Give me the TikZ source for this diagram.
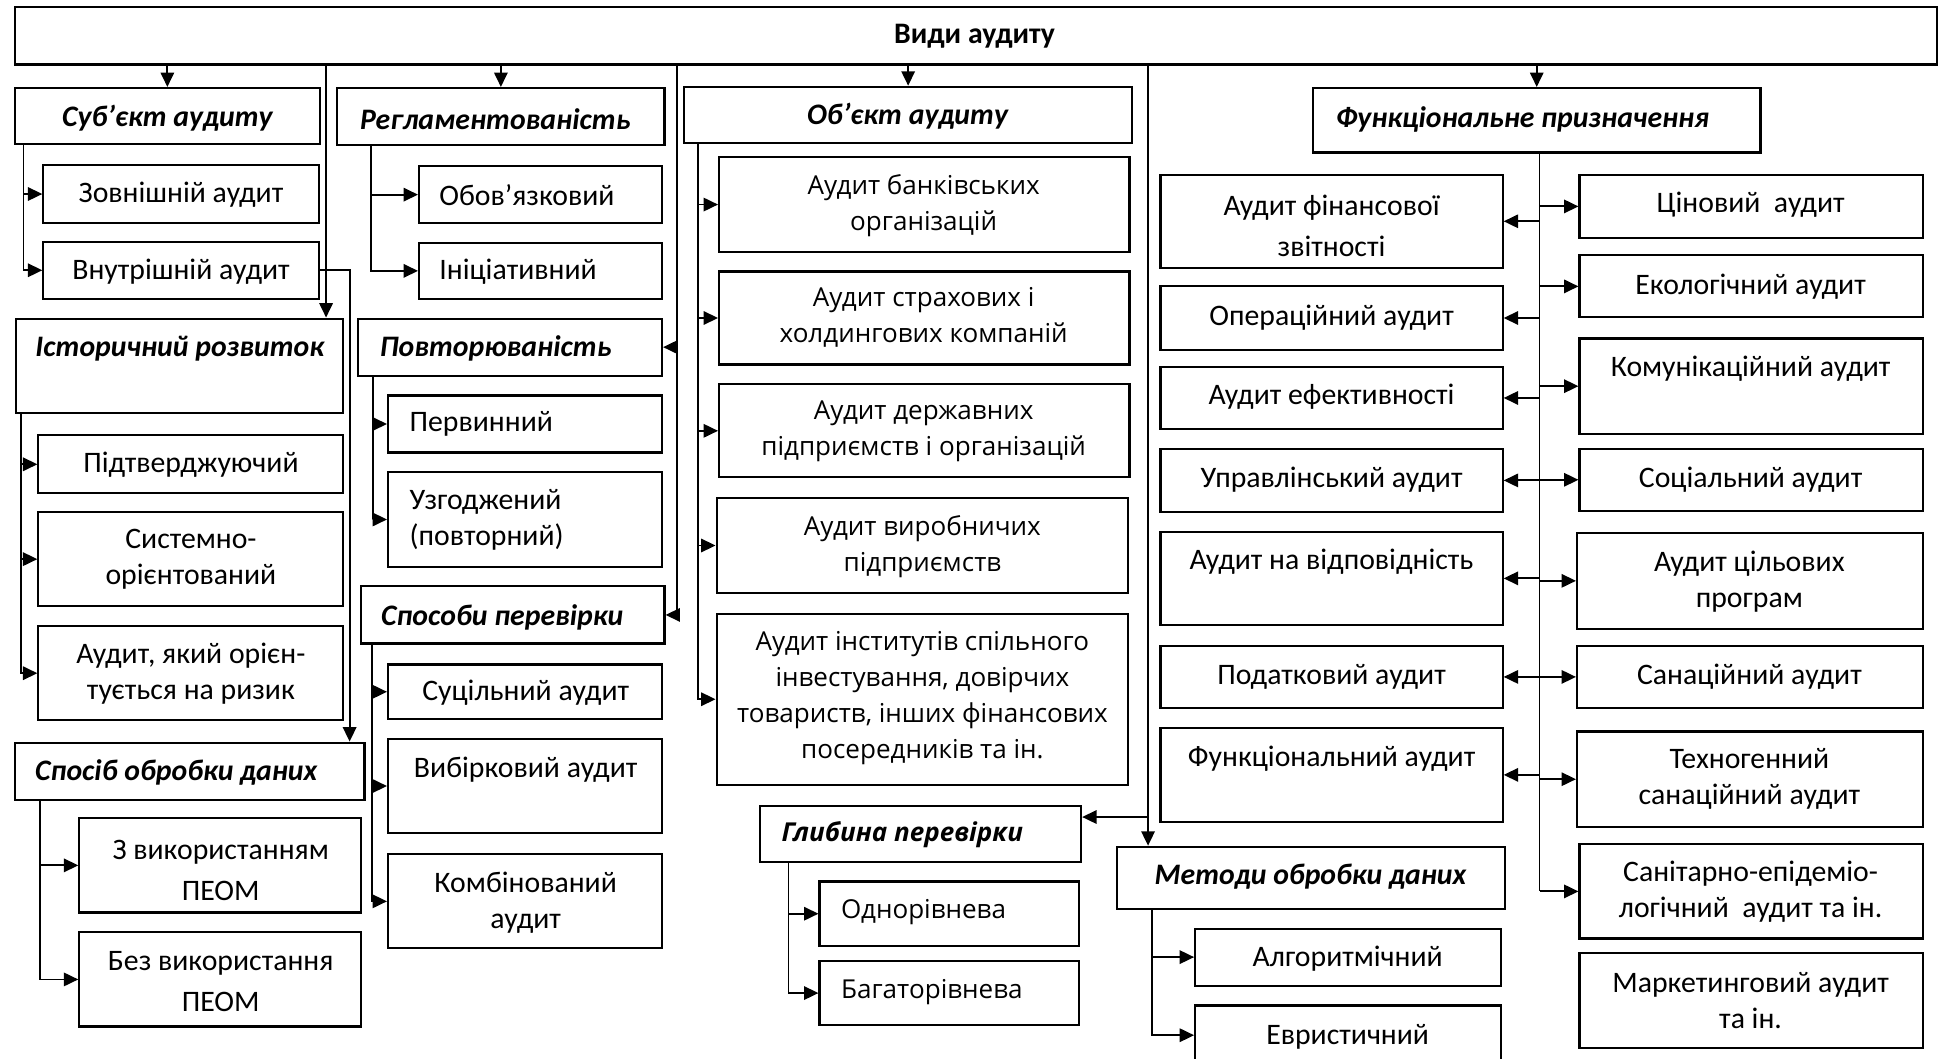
\documentclass[tikz,border=0pt]{standalone}
\usepackage{fontspec}
\setmainfont{Carlito}
\newfontfamily\osans{Open Sans}
\usetikzlibrary{arrows.meta,fit}
\tikzset{
  box/.style={draw, line width=0.85pt, inner sep=0pt, rectangle},
  txt/.style={inner sep=0pt, align=center, font=\fontsize{12}{14.5}\selectfont},
  txtw/.style={inner sep=0pt, align=center, font=\fontsize{12}{16.5}\selectfont},
  txtl/.style={inner sep=0pt, align=left, anchor=west, font=\fontsize{12}{14.5}\selectfont},
  txto/.style={inner sep=0pt, align=center, font=\osans\fontsize{10.5}{14.5}\selectfont},
  txtol/.style={inner sep=0pt, align=left, anchor=west, font=\osans\fontsize{10.5}{14.5}\selectfont},
  hd/.style={inner sep=0pt, align=center, font=\fontsize{12}{14.5}\selectfont\bfseries\itshape},
  hdl/.style={inner sep=0pt, anchor=west, font=\fontsize{12}{14.5}\selectfont\bfseries\itshape},
  hdo/.style={inner sep=0pt, anchor=west, font=\osans\fontsize{10.5}{14.5}\selectfont\bfseries\itshape},
  ln/.style={line width=0.75pt},
  arr/.style={line width=0.75pt, -{Triangle[length=5.8pt,width=5.4pt]}},
  thin/.style={line width=0.5pt},
}
\newcommand\bx[5]{\node[box, fit={(#2,#3) (#4,#5)}] (#1) {};}
\begin{document}
\begin{tikzpicture}[x=0.5pt,y=-0.5pt]
\fill[white] (0,0) rectangle (1568,854);
\useasboundingbox (0,0) rectangle (1568,854);

% ---------- top ----------
\bx{top}{12}{6}{1562}{52}
\node[txt,font=\fontsize{12}{14.5}\selectfont\bfseries] (t-top) at (786,29) {Види аудиту};

% ---------- column 1 ----------
\bx{sub}{12}{71}{258}{116}
\node[hd] (t-sub) at (135,95) {Суб’єкт аудиту};
\bx{zov}{35}{133}{257}{180}
\node[txt] (t-zov) at (146,157) {Зовнішній аудит};
\bx{vnu}{35}{195}{257}{241}
\node[txt] (t-vnu) at (146,219) {Внутрішній аудит};
\bx{ist}{13}{257}{277}{333}
\node[hd] (t-ist) at (145,281) {Історичний розвиток};
\bx{pid}{31}{351}{277}{398}
\node[txt] (t-pid) at (154,375) {Підтверджуючий};
\bx{sys}{31}{413}{277}{489}
\node[txt] (t-sys) at (154,451) {Системно-\\орієнтований};
\bx{riz}{31}{505}{277}{581}
\node[txt] (t-riz) at (154,543) {Аудит, який орієн-\\тується на ризик};
\bx{spo}{12}{599}{294}{645}
\node[hdl] (t-spo) at (28,623) {Спосіб обробки даних};
\bx{zvy}{64}{660}{291}{736}
\node[txtw] (t-zvy) at (178,702) {З використанням\\ПЕОМ};
\bx{bez}{64}{752}{291}{828}
\node[txtw] (t-bez) at (178,792) {Без використання\\ПЕОМ};

% ---------- column 2 ----------
\bx{reg}{272}{71}{536}{117}
\node[hdl] (t-reg) at (290,96) {Регламентованість};
\bx{obo}{338}{134}{534}{180}
\node[txtl] (t-obo) at (354,157) {Обов’язковий};
\bx{ini}{338}{196}{534}{241}
\node[txtl] (t-ini) at (354,219) {Ініціативний};
\bx{pov}{289}{257}{534}{303}
\node[hdl] (t-pov) at (306,281) {Повторюваність};
\bx{per}{313}{319}{534}{365}
\node[txtl] (t-per) at (330,342) {Первинний};
\bx{uzg}{313}{381}{534}{457}
\node[txtl] (t-uzg) at (330,419) {Узгоджений\\(повторний)};
\bx{sps}{291}{473}{536}{519}
\node[hdl] (t-sps) at (307,498) {Способи перевірки};
\bx{suc}{313}{536}{534}{580}
\node[txt] (t-suc) at (424,559) {Суцільний аудит};
\bx{vyb}{313}{596}{534}{672}
\node[txt] (t-vyb) at (424,621) {Вибірковий аудит};
\bx{kom}{313}{689}{534}{765}
\node[txt] (t-kom) at (424,728) {Комбінований\\аудит};

% ---------- column 3 ----------
\bx{obj}{552}{70}{913}{115}
\node[hd] (t-obj) at (732,94) {Об’єкт аудиту};
\bx{bank}{580}{127}{911}{203}
\node[txto] (t-bank) at (745,166) {Аудит банківських\\організацій};
\bx{str}{580}{219}{911}{294}
\node[txto] (t-str) at (745,256) {Аудит страхових і\\холдингових компаній};
\bx{der}{580}{310}{911}{385}
\node[txto] (t-der) at (745,348) {Аудит державних\\підприємств і організацій};
\bx{vyr}{578}{402}{910}{478}
\node[txto] (t-vyr) at (744,441) {Аудит виробничих\\підприємств};
\bx{inst}{578}{495}{910}{633}
\node[txto] (t-inst) at (744,563) {Аудит інститутів спільного\\інвестування, довірчих\\товариств, інших фінансових\\посередників та ін.};
\bx{glyb}{613}{650}{872}{695}
\node[hdo] (t-glyb) at (630,673) {Глибина перевірки};
\bx{odn}{661}{711}{870}{763}
\node[txtol] (t-odn) at (678,736) {Однорівнева};
\bx{bag}{661}{775}{870}{827}
\node[txtol] (t-bag) at (678,800) {Багаторівнева};

% ---------- column 4 ----------
\bx{met}{901}{683}{1214}{733}
\node[hd] (t-met) at (1057,707) {Методи обробки даних};
\bx{alg}{964}{749}{1211}{795}
\node[txt] (t-alg) at (1087,773) {Алгоритмічний};
\bx{evr}{964}{811}{1211}{859}
\node[txt] (t-evr) at (1087,836) {Евристичний};

% ---------- functional ----------
\bx{fun}{1059}{71}{1420}{123}
\node[hdl] (t-fun) at (1077,96) {Функціональне призначення};
\bx{fin}{936}{141}{1212}{216}
\node[txtw] (t-fin) at (1074,182) {Аудит фінансової\\звітності};
\bx{ope}{936}{231}{1212}{282}
\node[txt] (t-ope) at (1074,256) {Операційний аудит};
\bx{efe}{936}{296}{1212}{346}
\node[txt] (t-efe) at (1074,320) {Аудит ефективності};
\bx{upr}{936}{362}{1212}{413}
\node[txt] (t-upr) at (1074,387) {Управлінський аудит};
\bx{vid}{936}{429}{1212}{504}
\node[txt] (t-vid) at (1074,453) {Аудит на відповідність};
\bx{pod}{936}{521}{1212}{571}
\node[txt] (t-pod) at (1074,546) {Податковий аудит};
\bx{fnc}{936}{587}{1212}{663}
\node[txt] (t-fnc) at (1074,612) {Функціональний аудит};

\bx{cin}{1274}{141}{1551}{192}
\node[txt] (t-cin) at (1412,165) {Ціновий\ \ аудит};
\bx{eko}{1274}{206}{1551}{256}
\node[txt] (t-eko) at (1412,231) {Екологічний аудит};
\bx{kmu}{1274}{273}{1551}{350}
\node[txt] (t-kmu) at (1412,297) {Комунікаційний аудит};
\bx{soc}{1274}{362}{1551}{412}
\node[txt] (t-soc) at (1412,387) {Соціальний аудит};
\bx{cil}{1272}{430}{1551}{507}
\node[txt] (t-cil) at (1411,469) {Аудит цільових\\програм};
\bx{sa}{1272}{521}{1551}{571}
\node[txt] (t-sa) at (1411,546) {Санаційний аудит};
\bx{teh}{1272}{590}{1551}{667}
\node[txt] (t-teh) at (1411,628) {Техногенний\\санаційний аудит};
\bx{sep}{1274}{681}{1551}{757}
\node[txt] (t-sep) at (1412,719) {Санітарно-епідеміо-\\логічний\ \ аудит та ін.};
\bx{mar}{1274}{769}{1551}{845}
\node[txt] (t-mar) at (1412,807) {Маркетинговий аудит\\та ін.};

% ---------- connectors from top ----------
\draw[arr] (top.south -| sub.north) -- (sub.north);
\draw[arr] (top.south -| reg.north) -- (reg.north);
\draw[arr] (top.south -| obj.north) -- (obj.north);
\draw[arr] (top.south -| fun.north) -- (fun.north);
\coordinate (k1) at (263,52);
\draw[arr] (k1) -- (k1 |- ist.north);
\coordinate (k2) at (546,52);
\draw[ln] (k2) -- (k2 |- sps.east);
\draw[arr] (k2 |- pov.east) -- (pov.east);
\draw[arr] (k2 |- sps.east) -- (sps.east);
\coordinate (k3) at (926,52);
\draw[arr] (k3) -- (k3 |- met.north);
\coordinate (k4) at (926,659);
\draw[arr] (k4) -- (k4 -| glyb.east);
\coordinate (k5) at (282,0);
\draw[arr] (vnu.east) -| (k5 |- spo.north);

% ---------- sub-spines ----------
\coordinate (s1) at (19,0);
\draw[arr] (s1 |- sub.south) |- (zov.west);
\draw[arr] (s1 |- sub.south) |- (vnu.west);
\coordinate (s2) at (299,0);
\draw[arr] (s2 |- reg.south) |- (obo.west);
\draw[arr] (s2 |- reg.south) |- (ini.west);
\coordinate (s3) at (17,0);
\draw[arr] (s3 |- ist.south) |- (pid.west);
\draw[arr] (s3 |- ist.south) |- (sys.west);
\draw[arr] (s3 |- ist.south) |- (riz.west);
\coordinate (s4) at (301,0);
\draw[arr] (s4 |- pov.south) |- (per.west);
\draw[arr] (s4 |- pov.south) |- (uzg.west);
\coordinate (s5) at (300,0);
\draw[arr] (s5 |- sps.south) |- (suc.west);
\draw[arr] (s5 |- sps.south) |- (vyb.west);
\draw[arr] (s5 |- sps.south) |- (kom.west);
\coordinate (s6) at (32,0);
\draw[arr] (s6 |- spo.south) |- (zvy.west);
\draw[arr] (s6 |- spo.south) |- (bez.west);
\coordinate (s7) at (563,0);
\draw[arr] (s7 |- obj.south) |- (bank.west);
\draw[arr] (s7 |- obj.south) |- (str.west);
\draw[arr] (s7 |- obj.south) |- (der.west);
\draw[arr] (s7 |- obj.south) |- (vyr.west);
\draw[arr] (s7 |- obj.south) |- (inst.west);
\coordinate (s8) at (636,0);
\draw[arr] (s8 |- glyb.south) |- (odn.west);
\draw[arr] (s8 |- glyb.south) |- (bag.west);
\coordinate (s9) at (929,0);
\draw[arr] (s9 |- met.south) |- (alg.west);
\draw[arr] (s9 |- met.south) |- (evr.west);

% ---------- functional spine ----------
\coordinate (f) at (1242,0);
\draw[thin] (f |- fun.south) -- (f |- sep.west);
\foreach \n in {fin,ope,efe,upr,vid,pod,fnc}{
  \draw[arr] (f |- \n.east) -- (\n.east);
}
\foreach \n in {cin,eko,kmu,soc,cil,sa,teh,sep}{
  \draw[arr] (f |- \n.west) -- (\n.west);
}
\end{tikzpicture}
\end{document}
